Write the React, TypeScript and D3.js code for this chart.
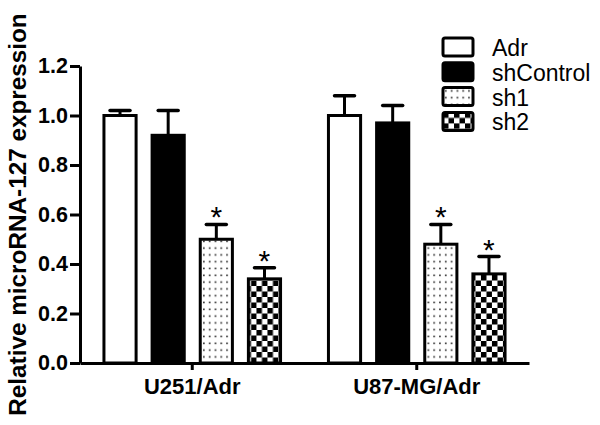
import { useEffect, useRef } from 'react';
import * as d3 from 'd3';

const groups = ['U251/Adr', 'U87-MG/Adr'];
const seriesNames = ['Adr', 'shControl', 'sh1', 'sh2'];
// means and upper SEM for each group, series order as above
const u251Means = [1.0, 0.92, 0.5, 0.34];
const u251Errors = [0.02, 0.1, 0.06, 0.045];
const u87Means = [1.0, 0.97, 0.48, 0.36];
const u87Errors = [0.08, 0.07, 0.08, 0.07];
const significant = [false, false, true, true];
const yTicks = [0, 0.2, 0.4, 0.6, 0.8, 1.0, 1.2];

const FONT = 'Arial, "Liberation Sans", sans-serif';

const App = () => {
	const ref = useRef<SVGSVGElement>(null);

	useEffect(() => {
		const svg = d3.select(ref.current);
		svg.selectAll('*').remove();

		const width = 600,
			height = 425;
		const margin = { top: 66, right: 71, bottom: 62, left: 80 };

		const rows = [
			{ group: groups[0], means: u251Means, errors: u251Errors },
			{ group: groups[1], means: u87Means, errors: u87Errors },
		];

		// patterns for sh1 / sh2
		const defs = svg.append('defs');
		const dots = defs
			.append('pattern')
			.attr('id', 'dots')
			.attr('patternUnits', 'userSpaceOnUse')
			.attr('width', 5.8)
			.attr('height', 6.8);
		dots.append('rect').attr('width', 5.8).attr('height', 6.8).attr('fill', '#fff');
		dots.append('rect').attr('x', 2).attr('y', 2.5).attr('width', 1.6).attr('height', 1.6).attr('fill', '#222');

		const checks = defs
			.append('pattern')
			.attr('id', 'checks')
			.attr('patternUnits', 'userSpaceOnUse')
			.attr('width', 11)
			.attr('height', 11);
		checks.append('rect').attr('width', 11).attr('height', 11).attr('fill', '#fff');
		checks.append('rect').attr('width', 5.5).attr('height', 5.5).attr('fill', '#000');
		checks.append('rect').attr('x', 5.5).attr('y', 5.5).attr('width', 5.5).attr('height', 5.5).attr('fill', '#000');

		const fills: Record<string, string> = {
			Adr: '#fff',
			shControl: '#000',
			sh1: 'url(#dots)',
			sh2: 'url(#checks)',
		};

		const x0 = d3
			.scaleBand()
			.domain(groups)
			.range([margin.left, width - margin.right])
			.paddingInner(0.2)
			.paddingOuter(0.1);
		const x1 = d3
			.scaleBand()
			.domain(seriesNames)
			.range([0, x0.bandwidth()])
			.paddingInner(0.27);
		const y = d3
			.scaleLinear()
			.domain([0, 1.2])
			.range([height - margin.bottom, margin.top]);

		// bars
		const g = svg
			.selectAll('.grp')
			.data(rows)
			.enter()
			.append('g')
			.attr('transform', (d) => `translate(${x0(d.group)}, 0)`);

		const items = g
			.selectAll('.bar')
			.data((d) =>
				seriesNames.map((s, i) => ({ s, v: d.means[i], e: d.errors[i], star: significant[i] }))
			)
			.enter()
			.append('g');

		// error bars (upper only)
		items
			.append('line')
			.attr('x1', (d) => x1(d.s)! + x1.bandwidth() / 2)
			.attr('x2', (d) => x1(d.s)! + x1.bandwidth() / 2)
			.attr('y1', (d) => y(d.v))
			.attr('y2', (d) => y(d.v + d.e))
			.attr('stroke', '#000')
			.attr('stroke-width', 3);
		items
			.append('line')
			.attr('x1', (d) => x1(d.s)! + x1.bandwidth() / 2 - 10)
			.attr('x2', (d) => x1(d.s)! + x1.bandwidth() / 2 + 10)
			.attr('y1', (d) => y(d.v + d.e))
			.attr('y2', (d) => y(d.v + d.e))
			.attr('stroke', '#000')
			.attr('stroke-width', 3.5)
			.attr('stroke-linecap', 'round');

		items
			.append('rect')
			.attr('x', (d) => x1(d.s)! + 1.5)
			.attr('y', (d) => y(d.v))
			.attr('width', x1.bandwidth() - 3)
			.attr('height', (d) => y(0) - y(d.v))
			.attr('fill', (d) => fills[d.s])
			.attr('stroke', '#000')
			.attr('stroke-width', 3);

		items
			.filter((d) => d.star)
			.append('text')
			.attr('x', (d) => x1(d.s)! + x1.bandwidth() / 2)
			.attr('y', (d) => y(d.v + d.e) + 3)
			.attr('text-anchor', 'middle')
			.attr('font-family', FONT)
			.attr('font-size', 30)
			.text('*');

		// axes
		const yAxis = svg
			.append('g')
			.attr('transform', `translate(${margin.left}, 0)`)
			.call(
				d3
					.axisLeft(y)
					.tickValues(yTicks)
					.tickFormat(d3.format('.1f'))
					.tickSize(10)
					.tickSizeOuter(0)
					.tickPadding(2)
			);
		yAxis.selectAll('path, line').attr('stroke', '#000').attr('stroke-width', 3);
		yAxis
			.selectAll('text')
			.attr('font-family', FONT)
			.attr('font-size', 21.5)
			.attr('font-weight', 'bold')
			.attr('fill', '#000');

		const xAxis = svg
			.append('g')
			.attr('transform', `translate(0, ${y(0)})`)
			.call(d3.axisBottom(x0).tickSize(7).tickSizeOuter(0).tickPadding(8));
		xAxis.selectAll('path, line').attr('stroke', '#000').attr('stroke-width', 3);
		xAxis
			.selectAll('text')
			.attr('font-family', FONT)
			.attr('font-size', 22)
			.attr('font-weight', 'bold')
			.attr('fill', '#000');

		// y title
		svg
			.append('text')
			.attr('transform', `translate(26, ${(13 + 416) / 2}) rotate(-90)`)
			.attr('text-anchor', 'middle')
			.attr('font-family', FONT)
			.attr('font-size', 24.3)
			.attr('font-weight', 'bold')
			.text('Relative microRNA-127 expression');

		// legend
		const legend = svg
			.selectAll('.leg')
			.data(seriesNames)
			.enter()
			.append('g')
			.attr('transform', (d, i) => `translate(443, ${38 + i * 24.8})`);
		legend
			.append('rect')
			.attr('width', 30)
			.attr('height', 18)
			.attr('rx', 2)
			.attr('fill', (d) => fills[d])
			.attr('stroke', '#000')
			.attr('stroke-width', 3);
		legend
			.append('text')
			.attr('x', 49)
			.attr('y', 18)
			.attr('font-family', FONT)
			.attr('font-size', 23)
			.text((d) => d);
	}, []);

	return (
		<svg
			ref={ref}
			width={600}
			height={425}
			style={{ position: 'absolute', left: 0, top: 0, background: '#fff' }}
		/>
	);
};

export default App;
